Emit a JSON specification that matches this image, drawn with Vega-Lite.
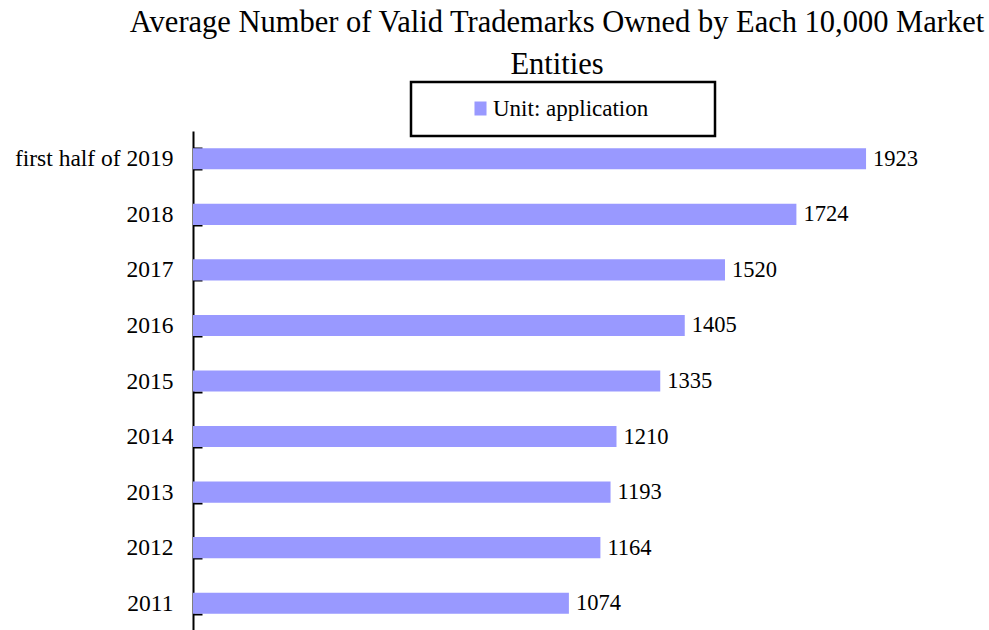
{
  "$schema": "https://vega.github.io/schema/vega-lite/v6.json",
  "autosize": "none",
  "width": 770,
  "height": 500,
  "padding": {"left": 193, "top": 131, "right": 26, "bottom": 0},
  "background": "white",
  "title": {
    "text": ["Average Number of Valid Trademarks Owned by Each 10,000 Market", "Entities"],
    "font": "Liberation Serif",
    "fontSize": 30.5,
    "fontWeight": "normal",
    "color": "black",
    "lineHeight": 42,
    "anchor": "middle",
    "frame": "group",
    "dx": -21,
    "offset": 0
  },
  "data": {
    "values": [
      {"period": "first half of 2019", "value": 1923},
      {"period": "2018", "value": 1724},
      {"period": "2017", "value": 1520},
      {"period": "2016", "value": 1405},
      {"period": "2015", "value": 1335},
      {"period": "2014", "value": 1210},
      {"period": "2013", "value": 1193},
      {"period": "2012", "value": 1164},
      {"period": "2011", "value": 1074}
    ]
  },
  "encoding": {
    "y": {
      "field": "period",
      "type": "nominal",
      "sort": null,
      "scale": {"paddingInner": 0.62, "paddingOuter": 0.31},
      "axis": {
        "title": null,
        "domainColor": "black",
        "domainWidth": 2,
        "tickColor": "black",
        "tickWidth": 2,
        "tickSize": -9,
        "tickBand": "extent",
        "labelFont": "Liberation Serif",
        "labelFontSize": 23.5,
        "labelColor": "black",
        "labelPadding": 29,
        "labelLimit": 300,
        "grid": false
      }
    },
    "x": {
      "field": "value",
      "type": "quantitative",
      "scale": {"domain": [0, 2200]},
      "axis": null
    }
  },
  "layer": [
    {
      "mark": {"type": "bar", "color": "#9999ff"},
      "encoding": {
        "color": {
          "datum": "Unit: application",
          "scale": {"range": ["#9999ff"]},
          "legend": {
            "title": null,
            "orient": "none",
            "legendX": 218,
            "legendY": -49,
            "padding": 15,
            "strokeColor": "black",
            "fillColor": "white",
            "symbolType": "M-0.86,-1H0.86V1H-0.86Z",
            "symbolSize": 196,
            "symbolStrokeWidth": 0,
            "symbolOffset": 43,
            "labelOffset": 1,
            "labelFont": "Liberation Serif",
            "labelFontSize": 23,
            "labelColor": "black",
            "labelLimit": 400,
            "labelExpr": "datum.label + '\u2800\u2800\u2800'"
          }
        }
      }
    },
    {
      "mark": {
        "type": "text",
        "align": "left",
        "baseline": "middle",
        "dx": 7,
        "font": "Liberation Serif",
        "fontSize": 22.5,
        "color": "black"
      },
      "encoding": {"text": {"field": "value", "type": "quantitative"}}
    }
  ],
  "config": {"view": {"stroke": null}, "legend": {"strokeWidth": 2.5}}
}
